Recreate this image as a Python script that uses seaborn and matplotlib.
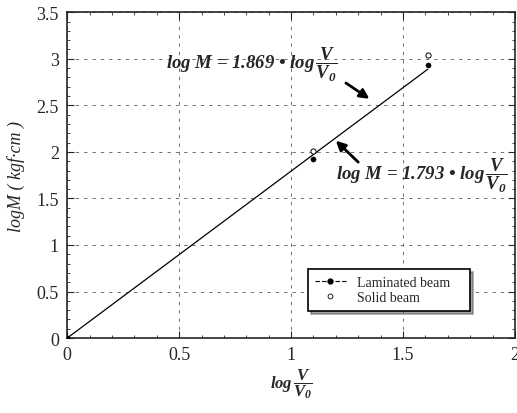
import seaborn as sns
import pandas as pd
import matplotlib.pyplot as plt
from matplotlib.ticker import MultipleLocator, FuncFormatter

lam_x = [0.0, 1.10, 1.61]
lam_y = [0.0, 1.92, 2.93]
solid_x = [1.10, 1.61]
solid_y = [2.01, 3.04]
# fitted line
fit_x = [0.0, 1.61]
fit_y = [0.0, 2.887]

sns.set_style("ticks")
plt.rcParams['font.family'] = ['Liberation Serif', 'DejaVu Serif']
plt.rcParams['mathtext.fontset'] = 'custom'
plt.rcParams['mathtext.rm'] = 'Liberation Serif:italic:bold'
plt.rcParams['mathtext.it'] = 'Liberation Serif:italic:bold'
plt.rcParams['mathtext.bf'] = 'Liberation Serif:bold'

lam = pd.DataFrame({"x": lam_x, "y": lam_y})
solid = pd.DataFrame({"x": solid_x, "y": solid_y})
fit = pd.DataFrame({"x": fit_x, "y": fit_y})

fig = plt.figure(figsize=(5.17, 4.14), dpi=100)
ax = fig.add_axes([0.130, 0.181, 0.866, 0.787])

sns.lineplot(data=fit, x="x", y="y", color="black", lw=0.9, ax=ax, legend=False)
sns.scatterplot(data=lam, x="x", y="y", color="black", s=14, marker="o",
                edgecolor="black", ax=ax, zorder=5)
sns.scatterplot(data=solid, x="x", y="y", facecolor="white", s=14, marker="o",
                edgecolor="black", linewidth=0.7, ax=ax, zorder=5)

ax.set_xlim(0, 2)
ax.set_ylim(0, 3.5)
ax.xaxis.set_major_locator(MultipleLocator(0.5))
ax.yaxis.set_major_locator(MultipleLocator(0.5))
ax.xaxis.set_minor_locator(MultipleLocator(0.1))
ax.yaxis.set_minor_locator(MultipleLocator(0.1))
fmt = FuncFormatter(lambda v, p: f"{v:g}")
ax.xaxis.set_major_formatter(fmt)
ax.yaxis.set_major_formatter(fmt)
ax.tick_params(which="both", direction="in", top=True, right=True, labelsize=13, pad=6)
ax.tick_params(which="major", length=5)
ax.tick_params(which="minor", length=2.5)
for s in ax.spines.values():
    s.set_linewidth(1.2)
ax.grid(True, which="major", ls=(0, (4, 6)), color="0.35", lw=0.6)

ax.set_xlabel(r"$log\,\dfrac{V}{V_0}$", fontsize=12, labelpad=2)
ax.set_ylabel("logM ( kgf·cm )", fontsize=13, fontstyle="italic", labelpad=8)

eq_style = dict(fontsize=13.5, fontstyle="italic", fontweight="bold", va="center", ha="left")
ax.text(0.44, 2.95, "log M = 1.869 • log" + r"$\,\dfrac{V}{V_0}$", **eq_style)
ax.text(1.20, 1.76, "log M = 1.793 • log" + r"$\,\dfrac{V}{V_0}$", **eq_style)
arrow = dict(arrowstyle="-|>", color="black", lw=2.0, shrinkA=0, shrinkB=0,
             mutation_scale=14)
ax.annotate("", xy=(1.35, 2.57), xytext=(1.245, 2.74), arrowprops=arrow)
ax.annotate("", xy=(1.20, 2.12), xytext=(1.30, 1.89), arrowprops=arrow)

handles = [
    plt.Line2D([], [], color="black", ls=(0, (4, 2)), lw=0.8, marker="o", ms=3.5,
               markevery=[0]),
    plt.Line2D([], [], color="black", ls="none", marker="o", ms=3.5,
               markerfacecolor="white", markeredgewidth=0.6),
]
leg = ax.legend(handles, ["Laminated beam", "Solid beam"], loc="lower left",
                bbox_to_anchor=(0.538, 0.083, 0.362, 0.117), mode="expand",
                borderaxespad=0, fancybox=False, shadow=True, edgecolor="black",
                framealpha=1, fontsize=10, handlelength=2.2, borderpad=0.5,
                labelspacing=0.15)
leg.get_frame().set_linewidth(1.2)

fig.savefig("out.png", dpi=100)
